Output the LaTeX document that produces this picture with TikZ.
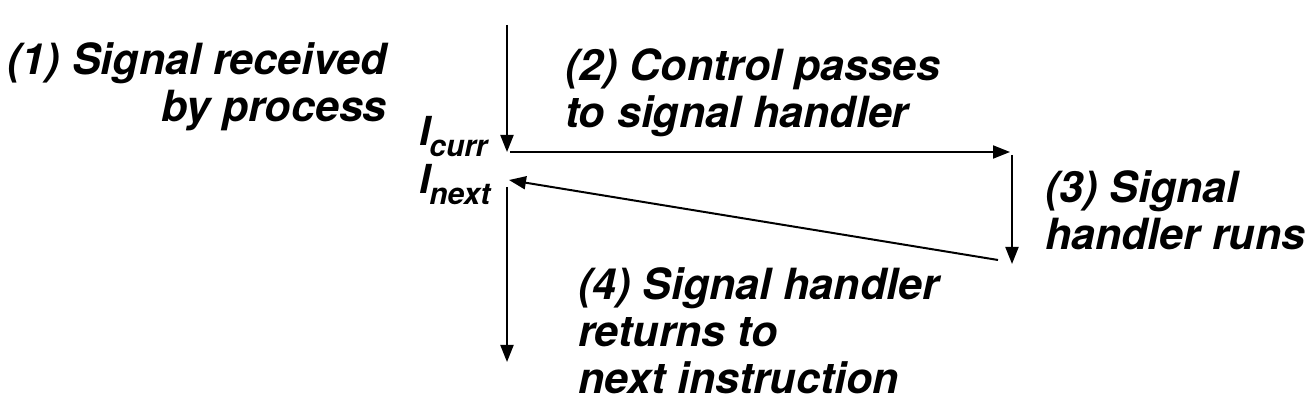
\documentclass[tikz,border=0pt]{standalone}
\usepackage{fontspec}
\setmainfont{TeX Gyre Heros}
\usetikzlibrary{arrows.meta}
\newcommand{\subtxt}[1]{\kern-1pt\raisebox{-11pt}{\fontsize{30}{30}\selectfont #1}}
\tikzset{
  lbl/.style={font=\fontsize{43}{47}\selectfont\bfseries\itshape, inner sep=0pt, align=left},
  ilbl/.style={font=\fontsize{40}{47}\selectfont\bfseries\itshape, inner sep=0pt},
  flow/.style={line width=2pt, -{Triangle[length=17pt,width=13pt]}},
}
\begin{document}
\begin{tikzpicture}[x=1pt,y=-1pt]
\useasboundingbox (0,0) rectangle (1306,411);
\coordinate (top) at (507,25);
\coordinate (currIn) at (507,152);
\coordinate (currOut) at (510,152);
\coordinate (handIn) at (1010,152);
\coordinate (handTop) at (1012,155);
\coordinate (handBot) at (1012,264);
\coordinate (retStart) at (998,260);
\coordinate (nextIn) at (509,180);
\coordinate (nextOut) at (507,187);
\coordinate (endp) at (507,362);
\draw[flow] (top) -- (currIn);
\draw[flow] (currOut) -- (handIn);
\draw[flow] (handTop) -- (handBot);
\draw[flow] (retStart) -- (nextIn);
\draw[flow] (nextOut) -- (endp);
\node[lbl, anchor=base east, align=right] (l1) at (387,122) {(1) Signal received\\by process};
\node[lbl, anchor=base west] (l2) at (565,128) {(2) Control passes\\to signal handler};
\node[lbl, anchor=base west] (l3) at (1045,250) {(3) Signal\\handler runs};
\node[lbl, anchor=base west] (l4) at (578,393) {(4) Signal handler\\returns to\\next instruction};
\node[ilbl, anchor=base west] (ic) at (419,146) {I\subtxt{curr}};
\node[ilbl, anchor=base west] (in) at (419,194) {I\subtxt{next}};
\end{tikzpicture}
\end{document}
